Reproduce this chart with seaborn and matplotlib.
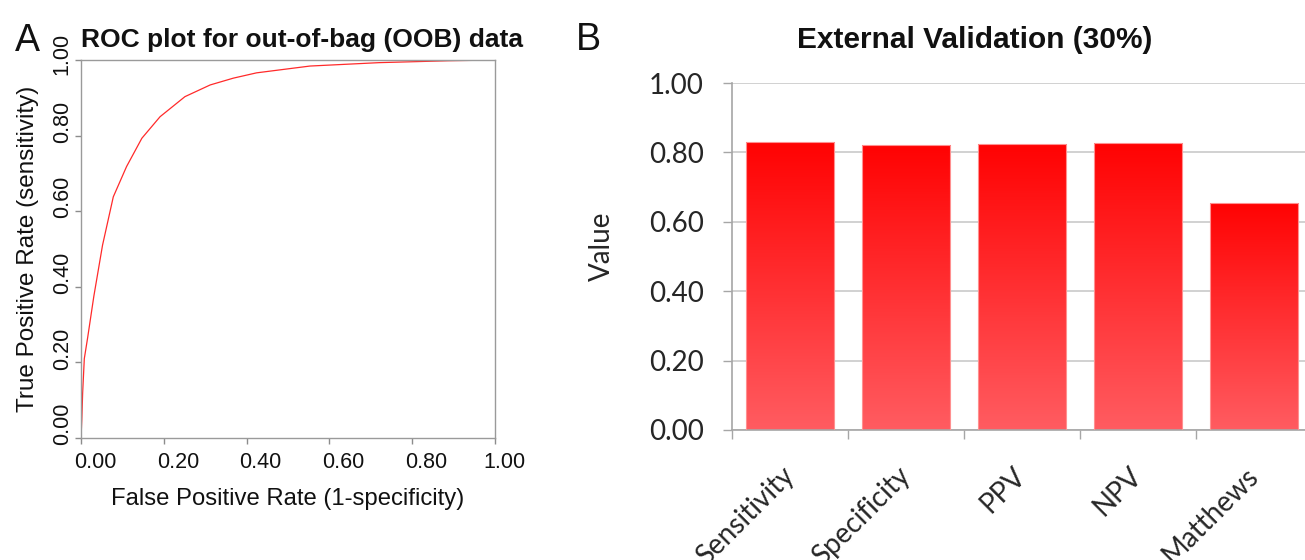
"""Two-panel figure: OOB ROC curve (A) and external validation metrics (B)."""
import matplotlib
matplotlib.use("Agg")
import matplotlib.pyplot as plt
import matplotlib.transforms as mtransforms
import numpy as np
import pandas as pd
import seaborn as sns
from matplotlib.colors import LinearSegmentedColormap

# ROC curve
roc_fpr = [0.0, 0.002, 0.004, 0.008, 0.016, 0.031, 0.052, 0.078, 0.110, 0.147,
           0.191, 0.251, 0.312, 0.368, 0.424, 0.553, 0.720, 0.887, 1.0]
roc_tpr = [0.0, 0.05, 0.12, 0.21, 0.265, 0.375, 0.51, 0.638, 0.718, 0.793,
           0.850, 0.903, 0.934, 0.952, 0.966, 0.984, 0.993, 0.998, 1.0]

metric_names = ["Sensitivity", "Specificity", "PPV", "NPV", "Matthews"]
metric_values = [0.830, 0.822, 0.825, 0.828, 0.653]

tick_vals = [0.0, 0.2, 0.4, 0.6, 0.8, 1.0]
tick_text = ["0.00", "0.20", "0.40", "0.60", "0.80", "1.00"]

sns.set_style("white")
plt.rcParams["font.family"] = ["Liberation Sans", "DejaVu Sans"]

fig = plt.figure(figsize=(13.05, 5.6), dpi=100)
ax_a = fig.add_axes([81 / 1305, 1 - 438 / 560, 414 / 1305, 378 / 560])
ax_b = fig.add_axes([732 / 1305, 1 - 430 / 560, 580 / 1305, 347 / 560])


def nudge(label, dx_px, dy_px):
    # the R device put its tick labels a little off the ticks
    off = mtransforms.ScaledTranslation(dx_px / 100, dy_px / 100, fig.dpi_scale_trans)
    label.set_transform(label.get_transform() + off)


# ---- panel A: ROC
roc = pd.DataFrame({"fpr": roc_fpr, "tpr": roc_tpr})
sns.lineplot(data=roc, x="fpr", y="tpr", ax=ax_a, sort=False, estimator=None,
             color="#ff2a2a", linewidth=0.9)
ax_a.set_xlim(0, 1)
ax_a.set_ylim(0, 1)
ax_a.set_xticks(tick_vals, tick_text)
ax_a.set_yticks(tick_vals, tick_text)
ax_a.tick_params(axis="both", which="major", length=4, width=1, color="#8c8c8c",
                 labelsize=15.5, labelcolor="#111111", direction="out",
                 bottom=True, left=True)
ax_a.tick_params(axis="x", pad=6)
ax_a.tick_params(axis="y", pad=2)
for i, lbl in enumerate(ax_a.get_xticklabels()):
    nudge(lbl, 9 if i == len(tick_vals) - 1 else 14, 0)
for i, lbl in enumerate(ax_a.get_yticklabels()):
    lbl.set_rotation(90)
    lbl.set_va("center")
    nudge(lbl, 0, 6 if i == len(tick_vals) - 1 else 14)
for sp in ax_a.spines.values():
    sp.set_color("#9a9a9a")
    sp.set_linewidth(1.0)
ax_a.set_xlabel("False Positive Rate (1-specificity)", fontsize=17.2, labelpad=11, color="#111111")
ax_a.set_ylabel("True Positive Rate (sensitivity)", fontsize=17.5, labelpad=9, color="#111111")
fig.text(302 / 1305, 1 - 40 / 560, "ROC plot for out-of-bag (OOB) data", ha="center", va="center",
         fontsize=19, fontweight="bold", color="#111111")
fig.text(27 / 1305, 1 - 41 / 560, "A", ha="center", va="center", fontsize=27, color="#111111")

# ---- panel B: bar chart with vertical gradient
bars = pd.DataFrame({"metric": metric_names, "value": metric_values})
sns.barplot(data=bars, x="metric", y="value", ax=ax_b, color="#ff2020", width=0.767,
            saturation=1, errorbar=None, zorder=2)

grad_cmap = LinearSegmentedColormap.from_list("bar_grad", ["#ff5c61", "#ff0000"])
grad = np.linspace(0, 1, 256).reshape(-1, 1)
for patch in ax_b.patches:
    x0, y0 = patch.get_xy()
    w, h = patch.get_width(), patch.get_height()
    # image a bit larger than the bar, then clipped to it, so no dark resampling rim
    im = ax_b.imshow(grad, extent=[x0 - 0.02, x0 + w + 0.02, y0, y0 + h + 0.02],
                     origin="lower", aspect="auto", cmap=grad_cmap, zorder=2.5,
                     interpolation="nearest")
    im.set_clip_path(patch)
    patch.set_facecolor("none")
    patch.set_edgecolor("#ff9090")
    patch.set_linewidth(0.8)
    patch.set_zorder(3)
ax_b.set_xlim(-0.5, len(metric_names) - 0.5)
ax_b.set_ylim(0, 1)

ax_b.set_yticks(tick_vals, tick_text)
ax_b.yaxis.grid(True, color="#cacaca", linewidth=1.2)
ax_b.set_axisbelow(True)
ax_b.set_xticks(np.arange(len(metric_names)), metric_names)
ax_b.set_xticks(np.arange(len(metric_names) + 1) - 0.5, minor=True)
ax_b.tick_params(axis="x", which="major", length=0, pad=30)
ax_b.tick_params(axis="x", which="minor", length=6.5, width=1, color="#a6a6a6", bottom=True)
ax_b.tick_params(axis="y", length=6.5, width=1, color="#a6a6a6", pad=14, left=True)
for lbl in ax_b.get_xticklabels():
    lbl.set_rotation(45)
    lbl.set_ha("right")
    lbl.set_va("center")
    lbl.set_rotation_mode("anchor")
    lbl.set_fontfamily(["Lato", "DejaVu Sans"])
    lbl.set_fontsize(20)
for lbl in ax_b.get_yticklabels():
    lbl.set_fontfamily(["Lato", "DejaVu Sans"])
    lbl.set_fontsize(20)
sns.despine(ax=ax_b, top=True, right=True)
for side in ("left", "bottom"):
    ax_b.spines[side].set_color("#a6a6a6")
    ax_b.spines[side].set_linewidth(1.2)
ax_b.set_xlabel("")
ax_b.set_ylabel("Value", fontsize=20, family=["Lato", "DejaVu Sans"])
ax_b.yaxis.set_label_coords((615 - 732) / 580, (430 - 246) / 347)
fig.text(975 / 1305, 1 - 40 / 560, "External Validation (30%)", ha="center", va="center",
         fontsize=21.5, fontweight="bold", color="#111111")
fig.text(588 / 1305, 1 - 40 / 560, "B", ha="center", va="center", fontsize=27, color="#111111")

fig.savefig("out.png", dpi=100)
plt.close(fig)
